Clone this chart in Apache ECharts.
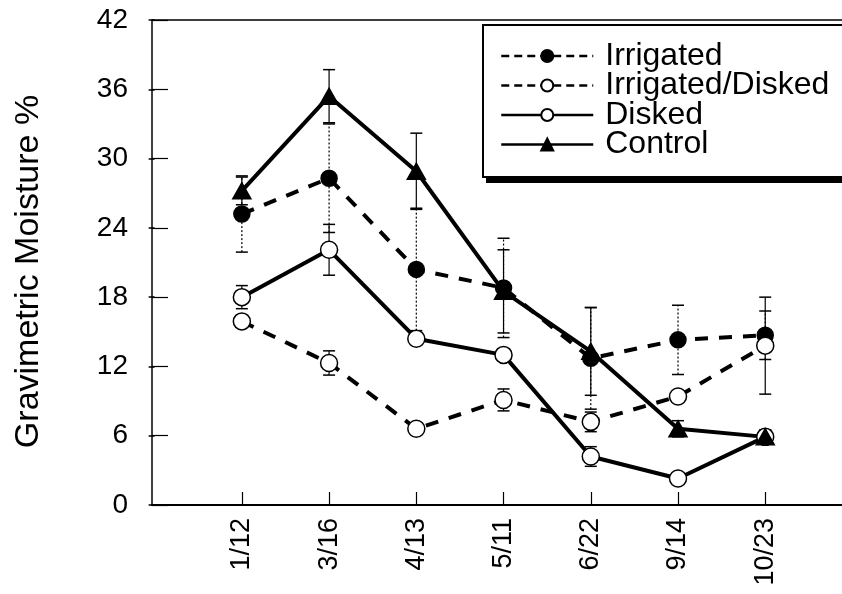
<!DOCTYPE html>
<html>
<head>
<meta charset="utf-8">
<script src="https://cdn.jsdelivr.net/npm/echarts@6/dist/echarts.min.js"></script>
<style>
  html, body { margin: 0; padding: 0; background: #fff; }
  #chart { width: 842px; height: 594px; }
</style>
</head>
<body>
<div id="chart"></div>
<script>
// Sampling dates (x categories)
const dates = ['1/12', '3/16', '4/13', '5/11', '6/22', '9/14', '10/23'];

// Gravimetric moisture (%) per treatment, with standard error
const irrigated = [25.2, 28.3, 20.4, 18.8, 12.7, 14.3, 14.7];
const irrigatedErr = [3.3, 4.7, 5.3, 4.3, 4.4, 3.0, 2.1];

const irrigatedDisked = [15.9, 12.3, 6.6, 9.1, 7.2, 9.4, 13.8];
const irrigatedDiskedErr = [0.3, 1.05, 0, 0.95, 0.85, 0, 4.2];

const disked = [18.0, 22.1, 14.4, 13.0, 4.2, 2.3, 5.9];
const diskedErr = [1.0, 2.2, 0, 0, 0.85, 0, 0.6];

const control = [27.2, 35.4, 28.9, 18.5, 13.3, 6.6, 5.9];
const controlErr = [1.2, 2.3, 3.3, 3.6, 3.8, 0.7, 0.6];

// y-axis ticks: 0, 6, ... 42
const yMin = 0, yMax = 42, yStep = 6;

const FONT = '"Liberation Sans", Arial, Helvetica, sans-serif';
const xPositions = dates.map((d, i) => i + 1);

function points(values) {
  return values.map((v, i) => [i + 1, v]);
}

// Vertical error bars with short caps, drawn under the markers
function errorBars(name, values, errs, dotted) {
  const data = [];
  values.forEach((v, i) => {
    if (errs[i] > 0) data.push([i + 1, v - errs[i], v + errs[i]]);
  });
  return {
    type: 'custom',
    name: name + ' SE',
    z: 1,
    silent: true,
    encode: { x: 0, y: [1, 2] },
    data: data,
    renderItem: function (params, api) {
      const x = api.value(0);
      const lo = api.coord([x, api.value(1)]);
      const hi = api.coord([x, api.value(2)]);
      const cap = 6;
      const stem = { stroke: '#000', lineWidth: 1.2 };
      if (dotted) stem.lineDash = [2, 2];
      return {
        type: 'group',
        children: [
          { type: 'line', shape: { x1: lo[0], y1: lo[1], x2: hi[0], y2: hi[1] }, style: stem },
          { type: 'line', shape: { x1: hi[0] - cap, y1: hi[1], x2: hi[0] + cap, y2: hi[1] }, style: { stroke: '#000', lineWidth: 1.5 } },
          { type: 'line', shape: { x1: lo[0] - cap, y1: lo[1], x2: lo[0] + cap, y2: lo[1] }, style: { stroke: '#000', lineWidth: 1.5 } }
        ]
      };
    }
  };
}

function lineSeries(name, values, opts) {
  return {
    type: 'line',
    name: name,
    z: 3,
    data: points(values),
    symbol: opts.symbol,
    symbolSize: opts.size,
    lineStyle: { color: '#000', width: 4, type: opts.dashed ? [13, 11] : 'solid' },
    itemStyle: { color: opts.fill, borderColor: '#000', borderWidth: 1.5 },
    emphasis: { disabled: true },
    animation: false
  };
}

const chart = echarts.init(document.getElementById('chart'), null, { renderer: 'canvas' });

chart.setOption({
  animation: false,
  backgroundColor: '#fff',
  textStyle: { fontFamily: FONT, color: '#000' },
  grid: { left: 152, right: 0, top: 20, bottom: 89, containLabel: false },
  // legend frame with a heavy drop shadow
  graphic: [
    { type: 'rect', z: 8, silent: true, shape: { x: 486, y: 31, width: 420, height: 152 }, style: { fill: '#000' } },
    { type: 'rect', z: 9, silent: true, shape: { x: 483, y: 25, width: 420, height: 152 }, style: { fill: '#fff', stroke: '#000', lineWidth: 2 } }
  ],
  xAxis: [
    {
      type: 'value',
      min: -0.03,
      max: 7.88,
      position: 'bottom',
      axisLine: { show: true, onZero: false, lineStyle: { color: '#000', width: 2 } },
      axisTick: { show: true, inside: true, length: 13, customValues: xPositions, lineStyle: { color: '#000', width: 1.2 } },
      axisLabel: {
        show: true,
        customValues: xPositions,
        rotate: 90,
        margin: 13,
        fontFamily: FONT,
        fontSize: 27,
        color: '#000',
        formatter: function (v) { return dates[Math.round(v) - 1] || ''; }
      },
      splitLine: { show: false }
    },
    {
      type: 'value',
      min: -0.03,
      max: 7.88,
      position: 'top',
      axisLine: { show: true, onZero: false, lineStyle: { color: '#000', width: 1.5 } },
      axisTick: { show: false },
      axisLabel: { show: false },
      splitLine: { show: false }
    }
  ],
  yAxis: [
    {
      type: 'value',
      min: yMin,
      max: yMax,
      interval: yStep,
      position: 'left',
      name: 'Gravimetric Moisture %',
      nameLocation: 'middle',
      nameRotate: 90,
      nameGap: 106,
      nameTextStyle: { fontFamily: FONT, fontSize: 34, color: '#000', padding: [0, 18, 0, 0] },
      axisLine: { show: true, onZero: false, lineStyle: { color: '#000', width: 1.5 } },
      axisTick: { show: true, inside: true, length: 16, lineStyle: { color: '#000', width: 1.2 } },
      axisLabel: { fontFamily: FONT, fontSize: 28, color: '#000', margin: 24 },
      splitLine: { show: false }
    },
    {
      type: 'value',
      min: yMin,
      max: yMax,
      interval: yStep,
      position: 'right',
      axisLine: { show: false },
      axisTick: { show: true, inside: true, length: 6, lineStyle: { color: '#000', width: 1.5 } },
      axisLabel: { show: false },
      splitLine: { show: false }
    }
  ],
  legend: {
    orient: 'vertical',
    left: 483,
    top: 26,
    z: 10,
    padding: [14, 10, 17, 17],
    itemWidth: 92,
    itemHeight: 15,
    itemGap: -2.5,
    selectedMode: false,
    backgroundColor: 'transparent',
    borderWidth: 0,
    textStyle: { fontFamily: FONT, fontSize: 32, color: '#000', lineHeight: 30, padding: [0, 0, 0, 7] },
    lineStyle: { width: 2.5 },
    data: [
      { name: 'Irrigated', lineStyle: { type: [8, 5] } },
      { name: 'Irrigated/Disked', lineStyle: { type: [8, 5] } },
      { name: 'Disked' },
      { name: 'Control' }
    ]
  },
  series: [
    errorBars('Irrigated', irrigated, irrigatedErr, true),
    errorBars('Irrigated/Disked', irrigatedDisked, irrigatedDiskedErr, false),
    errorBars('Disked', disked, diskedErr, false),
    errorBars('Control', control, controlErr, false),
    lineSeries('Irrigated', irrigated, { symbol: 'circle', size: 16, fill: '#000', dashed: true }),
    lineSeries('Irrigated/Disked', irrigatedDisked, { symbol: 'circle', size: 17, fill: '#fff', dashed: true }),
    lineSeries('Disked', disked, { symbol: 'circle', size: 17, fill: '#fff', dashed: false }),
    lineSeries('Control', control, { symbol: 'triangle', size: [18, 16], fill: '#000', dashed: false })
  ]
});
</script>
</body>
</html>
